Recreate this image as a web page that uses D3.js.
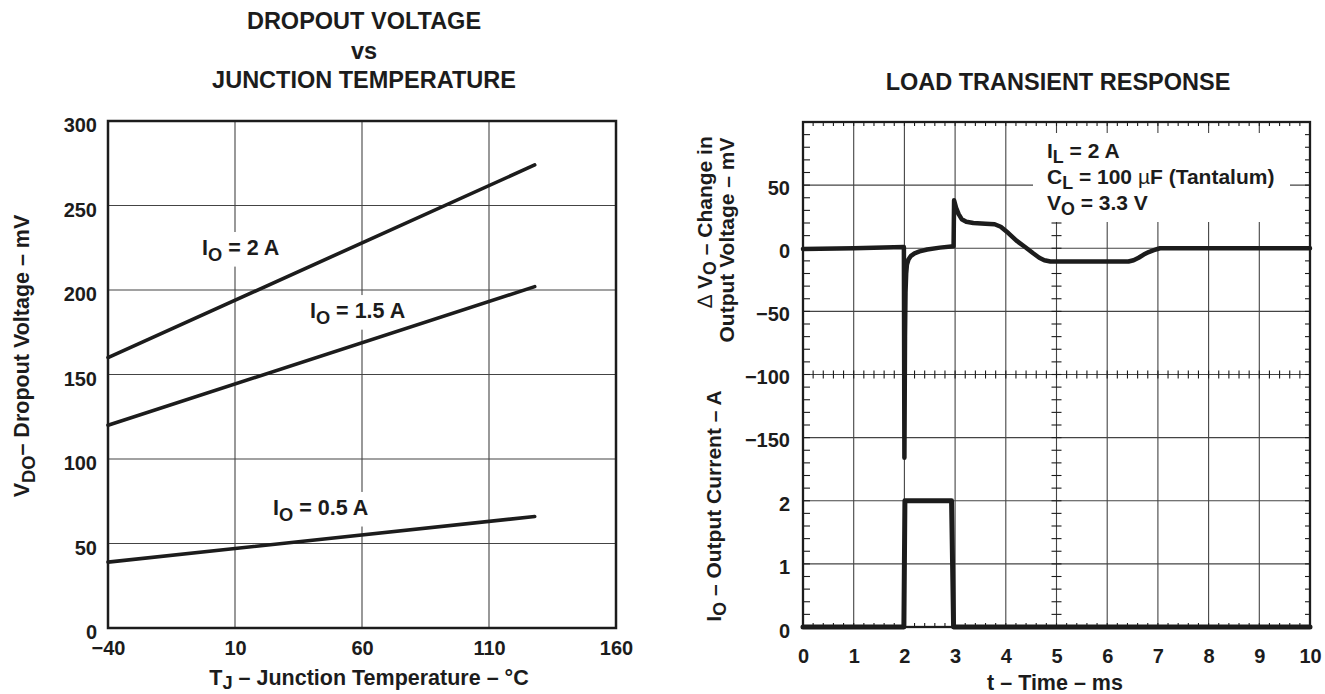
<!DOCTYPE html>
<html lang="en">
<head>
<meta charset="UTF-8">
<title>Dropout Voltage / Load Transient Response</title>
<script src="https://d3js.org/d3.v7.min.js"></script>
<style>
  body { margin: 0; background: #fff; }
  svg text { font-family: "Liberation Sans", Arial, Helvetica, sans-serif; font-weight: bold; fill: #1c1c1c; }
</style>
</head>
<body>
<svg id="chart"></svg>
<script>
// ---- dropout voltage vs junction temperature ----
const tempTicks = [-40, 10, 60, 110, 160];
const dropTicks = [0, 50, 100, 150, 200, 250, 300];
const lineTemps = [-40, 128];
const drop2A = [160, 274];
const drop15A = [120, 202];
const drop05A = [39, 66];

// ---- load transient response ----
const timeTicks = [0, 1, 2, 3, 4, 5, 6, 7, 8, 9, 10];
const dvTicks = [50, 0, -50, -100, -150];
const ioTicks = [0, 1, 2];
const dvTime = [0, 1.0, 1.99, 2.0, 2.012, 2.022, 2.035, 2.05, 2.08, 2.13, 2.2, 2.3, 2.45, 2.7, 2.97,
  2.98, 3.02, 3.07, 3.13, 3.22, 3.36, 3.6, 3.78, 3.9, 4.05, 4.21, 4.38, 4.54, 4.66, 4.76, 4.88, 5.0,
  6.42, 6.52, 6.62, 6.72, 6.82, 6.92, 7.04, 10];
const dvValues = [-0.5, 0, 1, -166, -70, -35, -20, -13, -9, -6, -4, -2.5, -1, 0.5, 1.5,
  38, 32, 27, 23, 21, 20, 19.5, 19, 17, 12, 6, 1, -4, -7.5, -9.5, -10.5, -10.5,
  -10.5, -9.5, -7.5, -5, -3, -1.5, 0, 0];
const ioTime = [0, 1.99, 2.01, 2.93, 2.97, 10];
const ioValues = [0, 0, 2, 2, 0, 0];

const width = 1325, height = 694;
const svg = d3.select("#chart").attr("width", width).attr("height", height);

const ink = "#1c1c1c", gridColor = "#444";

// text with subscripts: parts = [[text, isSub, thin], ...]
function rich(sel, parts, size, drop = 0.3) {
  let down = false;
  parts.forEach(p => {
    const t = sel.append("tspan").text(p[0]);
    if (p[1] && !down) { t.attr("dy", size * drop).attr("font-size", size * 0.85); down = true; }
    else if (!p[1] && down) { t.attr("dy", -size * drop); down = false; }
    if (p[2]) t.attr("font-weight", "normal");
  });
  return sel;
}

// ================= left chart =================
const x1 = d3.scaleLinear().domain([-40, 160]).range([108, 616]);
const y1 = d3.scaleLinear().domain([0, 300]).range([628, 121]);
const g1 = svg.append("g");

g1.append("g").selectAll("line").data(tempTicks).join("line")
  .attr("x1", d => x1(d)).attr("x2", d => x1(d))
  .attr("y1", y1(0)).attr("y2", y1(300))
  .attr("stroke", gridColor).attr("stroke-width", 1.1);
g1.append("g").selectAll("line").data(dropTicks).join("line")
  .attr("x1", x1(-40)).attr("x2", x1(160))
  .attr("y1", d => y1(d)).attr("y2", d => y1(d))
  .attr("stroke", gridColor).attr("stroke-width", 1.1);

// curve labels with white backing
const curveLabels = [
  { t: -3, v: 220.7, txt: "= 2 A" },
  { t: 39.5, v: 183.4, txt: "= 1.5 A" },
  { t: 25, v: 66.9, txt: "= 0.5 A" }
];
curveLabels.forEach(l => {
  const bg = g1.append("rect").attr("fill", "#fff");
  const tx = g1.append("text").attr("x", x1(l.t)).attr("y", y1(l.v)).attr("font-size", 21.5);
  rich(tx, [["I"], ["O", true], [" " + l.txt]], 21.5, 0.26);
  const b = tx.node().getBBox();
  bg.attr("x", b.x - 5).attr("y", b.y - 4).attr("width", b.width + 10).attr("height", b.height + 6);
});

const line1 = d3.line().x(d => x1(d[0])).y(d => y1(d[1]));
[drop2A, drop15A, drop05A].forEach(s => {
  g1.append("path").datum(lineTemps.map((t, i) => [t, s[i]]))
    .attr("d", line1).attr("fill", "none").attr("stroke", ink)
    .attr("stroke-width", 3.6).attr("stroke-linecap", "round");
});

g1.append("rect").attr("x", x1(-40)).attr("y", y1(300))
  .attr("width", x1(160) - x1(-40)).attr("height", y1(0) - y1(300))
  .attr("fill", "none").attr("stroke", ink).attr("stroke-width", 2.5);

// axes (labels only)
const ax1 = g1.append("g").attr("transform", `translate(${x1(-40) - 11},0)`)
  .call(d3.axisLeft(y1).tickValues(dropTicks).tickSize(0).tickPadding(0));
ax1.selectAll("text").attr("dy", 10.5).attr("font-size", 20);
const bx1 = g1.append("g").attr("transform", `translate(0,655)`)
  .call(d3.axisBottom(x1).tickValues(tempTicks).tickSize(0).tickPadding(0));
bx1.selectAll("text").attr("dy", 0).attr("y", 0).attr("font-size", 20);
g1.selectAll(".domain").remove();

rich(g1.append("text").attr("x", 369).attr("y", 685).attr("text-anchor", "middle").attr("font-size", 21.5),
  [["T"], ["J", true], [" – Junction Temperature – °C"]], 21.5, 0.2);
rich(g1.append("text").attr("transform", "translate(29,356) rotate(-90)").attr("text-anchor", "middle").attr("font-size", 21.5),
  [["V"], ["DO", true], ["– Dropout Voltage – mV"]], 21.5, 0.26);

["DROPOUT VOLTAGE", "vs", "JUNCTION TEMPERATURE"].forEach((s, i) => {
  g1.append("text").attr("x", 364).attr("y", 29 + i * 29.5).attr("text-anchor", "middle")
    .attr("font-size", 23.5).text(s);
});

// ================= right chart =================
const x2 = d3.scaleLinear().domain([0, 10]).range([803, 1310]);
const yV = d3.scaleLinear().domain([-300, 100]).range([627, 122]);
const yI = d3.scaleLinear().domain([0, 8]).range([627, 122]);
const g2 = svg.append("g");

g2.append("g").selectAll("line").data(timeTicks).join("line")
  .attr("x1", d => x2(d)).attr("x2", d => x2(d))
  .attr("y1", yV(-300)).attr("y2", yV(100))
  .attr("stroke", gridColor).attr("stroke-width", 1.1);
g2.append("g").selectAll("line").data(d3.range(-300, 101, 50)).join("line")
  .attr("x1", x2(0)).attr("x2", x2(10))
  .attr("y1", d => yV(d)).attr("y2", d => yV(d))
  .attr("stroke", gridColor).attr("stroke-width", 1.1);

// minor ticks, oscilloscope style
const minorT = d3.range(0, 10.001, 0.2);
const minorV = d3.range(-300, 100.001, 10);
const tk = g2.append("g").attr("stroke", ink).attr("stroke-width", 1.1);
function hTicks(yPix, a, b) {
  tk.append("g").selectAll("line").data(minorT).join("line")
    .attr("x1", d => x2(d)).attr("x2", d => x2(d)).attr("y1", yPix + a).attr("y2", yPix + b);
}
function vTicks(xPix, a, b) {
  tk.append("g").selectAll("line").data(minorV).join("line")
    .attr("y1", d => yV(d)).attr("y2", d => yV(d)).attr("x1", xPix + a).attr("x2", xPix + b);
}
hTicks(yV(100), 0, 4);
hTicks(yV(-300), -4, 0);
hTicks(yV(-100), -4, 4);
vTicks(x2(0), 0, 7);
vTicks(x2(10), -5, 0);
vTicks(x2(5), -5, 5);

// conditions box
const condBg = g2.append("rect").attr("fill", "#fff");
const cond = g2.append("g");
const condLines = [
  [["I"], ["L", true], [" = 2 A"]],
  [["C"], ["L", true], [" = 100 "], ["µ", false, true], ["F (Tantalum)"]],
  [["V"], ["O", true], [" = 3.3 V"]]
];
condLines.forEach((p, i) => {
  rich(cond.append("text").attr("x", 1047).attr("y", 158 + i * 26).attr("font-size", 21), p, 21, 0.22);
});
condBg.attr("x", 1033).attr("y", 133).attr("width", 257).attr("height", 89);

const lineV = d3.line().x(d => x2(d[0])).y(d => yV(d[1]));
const lineI = d3.line().x(d => x2(d[0])).y(d => yI(d[1]));
g2.append("path").datum(dvTime.map((t, i) => [t, dvValues[i]]))
  .attr("d", lineV).attr("fill", "none").attr("stroke", ink)
  .attr("stroke-width", 4.5).attr("stroke-linejoin", "round").attr("stroke-linecap", "round");
g2.append("path").datum(ioTime.map((t, i) => [t, ioValues[i]]))
  .attr("d", lineI).attr("fill", "none").attr("stroke", ink)
  .attr("stroke-width", 5).attr("stroke-linejoin", "round").attr("stroke-linecap", "round");

g2.append("rect").attr("x", x2(0)).attr("y", yV(100))
  .attr("width", x2(10) - x2(0)).attr("height", yV(-300) - yV(100))
  .attr("fill", "none").attr("stroke", ink).attr("stroke-width", 2.3);

const av = g2.append("g").attr("transform", `translate(${x2(0) - 13},0)`)
  .call(d3.axisLeft(yV).tickValues(dvTicks).tickSize(0).tickPadding(0));
av.selectAll("text").attr("dy", 9).attr("font-size", 20);
const ai = g2.append("g").attr("transform", `translate(${x2(0) - 13},0)`)
  .call(d3.axisLeft(yI).tickValues(ioTicks).tickSize(0).tickPadding(0));
ai.selectAll("text").attr("dy", 10).attr("font-size", 20);
const at = g2.append("g").attr("transform", `translate(0,663)`)
  .call(d3.axisBottom(x2).tickValues(timeTicks).tickSize(0).tickPadding(0));
at.selectAll("text").attr("dy", 0).attr("y", 0).attr("font-size", 20);
g2.selectAll(".domain").remove();

g2.append("text").attr("x", 1055).attr("y", 690).attr("text-anchor", "middle")
  .attr("font-size", 21.5).text("t – Time – ms");
rich(g2.append("text").attr("transform", "translate(712,222) rotate(-90)").attr("text-anchor", "middle").attr("font-size", 21),
  [["∆ ", false, true], ["V"], ["O", true], [" – Change in"]], 21, 0.18);
g2.append("text").attr("transform", "translate(734,240) rotate(-90)").attr("text-anchor", "middle")
  .attr("font-size", 21).text("Output Voltage – mV");
rich(g2.append("text").attr("transform", "translate(721,506) rotate(-90)").attr("text-anchor", "middle").attr("font-size", 21),
  [["I"], ["O", true], [" – Output Current – A"]], 21, 0.26);

g2.append("text").attr("x", 1058).attr("y", 90).attr("text-anchor", "middle")
  .attr("font-size", 23.5).text("LOAD TRANSIENT RESPONSE");
</script>
</body>
</html>
